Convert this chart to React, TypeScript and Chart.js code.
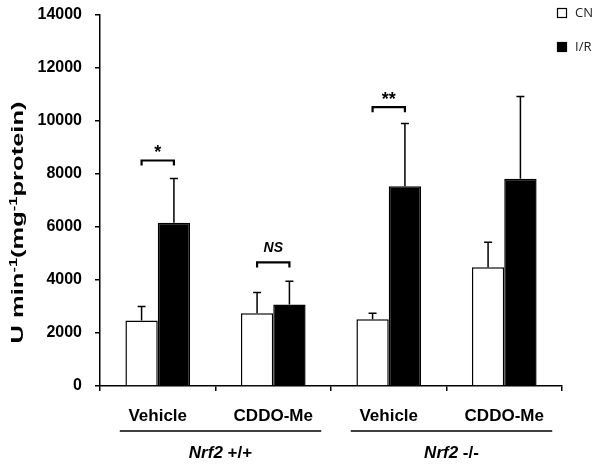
import React, { useEffect, useRef } from "react";
import { Chart, registerables } from "chart.js";

Chart.register(...registerables);

// ---- data ----
const categories = ["Vehicle", "CDDO-Me", "Vehicle", "CDDO-Me"];
const seriesNames = ["CN", "I/R"];
const cnValues = [2470, 2750, 2520, 4480];
const irValues = [6160, 3080, 7540, 7820];
const cnErrors = [530, 780, 230, 940];
const irErrors = [1670, 870, 2370, 3100];
const yMin = 0;
const yMax = 14000;
const yStep = 2000;
const groupGenes = ["Nrf2", "Nrf2"];
const groupGenotypes = ["+/+", "-/-"];
const sigCategories = [0, 1, 2];
const sigLevels = [8510, 4665, 10520];
const sigLabels = ["*", "NS", "**"];

const FAMILY = "'Liberation Sans', Arial, Helvetica, sans-serif";

type Part = { t: string; sup?: boolean; italic?: boolean };

function drawRich(
  ctx: CanvasRenderingContext2D,
  parts: Part[],
  size: number,
  cx: number,
  baseline: number,
  targetLength?: number
) {
  const fontFor = (p: Part) =>
    `${p.italic ? "italic " : ""}bold ${p.sup ? Math.round(size * 0.62) : size}px ${FAMILY}`;
  let total = 0;
  const widths = parts.map((p) => {
    ctx.font = fontFor(p);
    const w = ctx.measureText(p.t).width;
    total += w;
    return w;
  });
  const sx = targetLength ? targetLength / total : 1;
  ctx.save();
  ctx.translate(cx, baseline);
  ctx.scale(sx, 1);
  let x = -total / 2;
  ctx.textAlign = "left";
  ctx.textBaseline = "alphabetic";
  parts.forEach((p, i) => {
    ctx.font = fontFor(p);
    ctx.fillText(p.t, x, p.sup ? -size * 0.38 : 0);
    x += widths[i];
  });
  ctx.restore();
}

const annotationPlugin = {
  id: "annotations",
  afterDatasetsDraw(chart: any) {
    const ctx: CanvasRenderingContext2D = chart.ctx;
    const yScale = chart.scales.y;
    const errs = [cnErrors, irErrors];
    const vals = [cnValues, irValues];
    ctx.save();
    ctx.strokeStyle = "#000";
    ctx.lineWidth = 1.5;
    // error bars (upper only)
    for (let d = 0; d < 2; d++) {
      const meta = chart.getDatasetMeta(d);
      meta.data.forEach((bar: any, j: number) => {
        const top = yScale.getPixelForValue(vals[d][j] + errs[d][j]);
        ctx.beginPath();
        ctx.moveTo(bar.x, bar.y);
        ctx.lineTo(bar.x, top);
        ctx.moveTo(bar.x - 4, top);
        ctx.lineTo(bar.x + 4, top);
        ctx.stroke();
      });
    }
    // significance brackets
    const m0 = chart.getDatasetMeta(0);
    const m1 = chart.getDatasetMeta(1);
    ctx.lineWidth = 2.2;
    ctx.fillStyle = "#000";
    sigCategories.forEach((c, k) => {
      const xa = m0.data[c].x;
      const xb = m1.data[c].x;
      const y = yScale.getPixelForValue(sigLevels[k]);
      ctx.beginPath();
      ctx.moveTo(xa, y + 5);
      ctx.lineTo(xa, y);
      ctx.lineTo(xb, y);
      ctx.lineTo(xb, y + 5);
      ctx.stroke();
      const label = sigLabels[k];
      ctx.textAlign = "center";
      ctx.textBaseline = "alphabetic";
      if (label === "NS") {
        ctx.font = `italic bold 14px ${FAMILY}`;
        ctx.fillText(label, (xa + xb) / 2, y - 10);
      } else {
        ctx.font = `bold 18px ${FAMILY}`;
        ctx.fillText(label, (xa + xb) / 2, y - 2);
      }
    });
    ctx.restore();
  },
  afterDraw(chart: any) {
    const ctx: CanvasRenderingContext2D = chart.ctx;
    const area = chart.chartArea;
    const xScale = chart.scales.x;
    ctx.save();
    ctx.fillStyle = "#000";
    ctx.strokeStyle = "#000";
    // group labels
    for (let g = 0; g < groupGenes.length; g++) {
      const left = xScale.getPixelForValue(2 * g) - 38;
      const right = xScale.getPixelForValue(2 * g + 1) + 48;
      const lineY = area.bottom + 45;
      ctx.lineWidth = 1.5;
      ctx.beginPath();
      ctx.moveTo(left, lineY);
      ctx.lineTo(right, lineY);
      ctx.stroke();
      drawRich(
        ctx,
        [
          { t: groupGenes[g], italic: true },
          { t: " " + groupGenotypes[g] },
        ],
        17,
        (left + right) / 2,
        area.bottom + 72
      );
    }
    // y-axis title
    ctx.save();
    ctx.translate(17, (area.top + area.bottom) / 2 + 22);
    ctx.rotate(-Math.PI / 2);
    drawRich(
      ctx,
      [
        { t: "U min" },
        { t: "-1", sup: true },
        { t: "(mg" },
        { t: "-1", sup: true },
        { t: "protein)" },
      ],
      17,
      0,
      6,
      242
    );
    ctx.restore();
    // legend
    const ds = chart.data.datasets;
    ds.forEach((d: any, i: number) => {
      const by = 8 + i * 34;
      ctx.fillStyle = d.backgroundColor;
      ctx.fillRect(557, by, 10, 10);
      ctx.lineWidth = 1.2;
      ctx.strokeStyle = "#000";
      ctx.strokeRect(557.5, by + 0.5, 9, 9);
      ctx.fillStyle = "#222";
      ctx.font = `13px 'Open Sans', ${FAMILY}`;
      ctx.textAlign = "left";
      ctx.textBaseline = "middle";
      ctx.fillText(d.label, 575, by + 5);
    });
    ctx.restore();
  },
};

export default function App() {
  const ref = useRef<HTMLCanvasElement | null>(null);
  useEffect(() => {
    if (!ref.current) return;
    const chart = new Chart(ref.current, {
      type: "bar",
      data: {
        labels: categories,
        datasets: [
          {
            label: seriesNames[0],
            data: cnValues,
            backgroundColor: "#ffffff",
            borderColor: "#000000",
            borderWidth: 1.5,
            borderSkipped: "bottom",
            categoryPercentage: 0.56,
            barPercentage: 1.0,
          },
          {
            label: seriesNames[1],
            data: irValues,
            backgroundColor: "#000000",
            borderColor: "#000000",
            borderWidth: 1.5,
            borderSkipped: "bottom",
            categoryPercentage: 0.56,
            barPercentage: 1.0,
          },
        ],
      },
      options: {
        animation: false,
        responsive: false,
        layout: { padding: { left: 0, top: 15, right: 40, bottom: 0 } },
        plugins: { legend: { display: false }, tooltip: { enabled: false } },
        scales: {
          x: {
            offset: true,
            grid: {
              offset: true,
              drawOnChartArea: false,
              drawTicks: true,
              tickLength: 5,
              color: "#000",
              lineWidth: 1.5,
            },
            border: { color: "#000", width: 1.5 },
            ticks: {
              color: "#000",
              font: { family: FAMILY, size: 17, weight: "bold" },
              padding: 15,
              maxRotation: 0,
            },
            afterFit: (s: any) => {
              s.height = 83;
              s.paddingLeft = 0;
              s.paddingRight = 0;
            },
          },
          y: {
            min: yMin,
            max: yMax,
            grid: {
              drawOnChartArea: false,
              drawTicks: true,
              tickLength: 5,
              color: "#000",
              lineWidth: 1.5,
            },
            border: { color: "#000", width: 1.5 },
            ticks: {
              stepSize: yStep,
              color: "#000",
              font: { family: FAMILY, size: 16, weight: "bold" },
              padding: 13,
              callback: (v: any) => String(v),
            },
            afterFit: (s: any) => {
              s.width = 100;
              s.paddingTop = 0;
              s.paddingBottom = 0;
            },
          },
        },
      },
      plugins: [annotationPlugin],
    } as any);
    return () => chart.destroy();
  }, []);
  return (
    <div style={{ position: "absolute", left: 0, top: 0, width: 602, height: 469, background: "#fff" }}>
      <canvas ref={ref} width={602} height={469} style={{ display: "block" }} />
    </div>
  );
}
